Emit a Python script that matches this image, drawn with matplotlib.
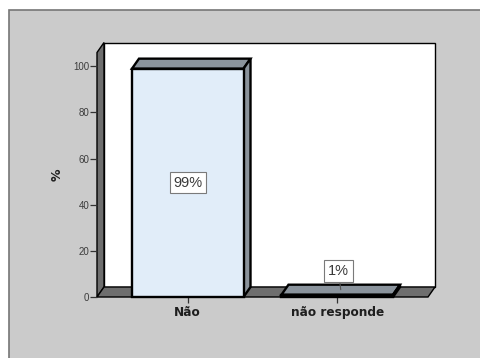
import matplotlib.pyplot as plt
import matplotlib.patches as mpatches

import numpy

categories = ['Não', 'não responde']
percents = [99, 1]
value_labels = ['99%', '1%']
yticks = [0, 20, 40, 60, 80, 100]

bg_gray = '#cbcbcb'
wall_gray = '#6e6e6e'
bar_face = '#e1edf9'
bar_shade = '#8a939c'
tick_font = {'family': 'Liberation Sans', 'size': 7, 'color': '#3c3c3c'}
cat_font = {'family': 'DejaVu Sans', 'size': 8.7, 'weight': 'bold', 'color': '#1e1e1e'}

f = plt.figure(figsize=(4.81, 3.58), dpi=100, facecolor='w')

# gray panel behind the chart
panel = mpatches.Rectangle((9 / 481., -0.1), 1.2, 1.1 - 10 / 358., transform=f.transFigure,
                           facecolor=bg_gray, edgecolor='#767676', linewidth=1.2, zorder=-10)
f.patches.append(panel)

ax = f.add_axes((97 / 481., 61 / 358., 331 / 481., 244.5 / 358.))
ax.patch.set_visible(False)
for s in ax.spines.values():
    s.set_visible(False)

x0, x1 = -0.607, 1.607
ymax = 106
ax.set_xlim(x0, x1)
ax.set_ylim(0, ymax)

# depth of the fake 3d box, in data units (7px right, 10px up)
dx = 7 / 149.5
dy = 10 / 2.307

def poly(pts, fc, z, lw=1.0):
    p = mpatches.Polygon(pts, closed=True, facecolor=fc, edgecolor='k',
                         linewidth=lw, joinstyle='miter', clip_on=False, zorder=z)
    ax.add_patch(p)
    return p

# back wall, left wall, floor
poly([(x0 + dx, dy), (x1 + dx, dy), (x1 + dx, ymax + dy), (x0 + dx, ymax + dy)], 'white', 0.5)
poly([(x0, 0), (x0 + dx, dy), (x0 + dx, ymax + dy), (x0, ymax)], wall_gray, 1)
poly([(x0, 0), (x1, 0), (x1 + dx, dy), (x0 + dx, dy)], wall_gray, 1)

ind = numpy.arange(len(categories))
width = 0.746

bars = ax.bar(ind, percents, width=width, color=bar_face, edgecolor='k',
              linewidth=1.7, zorder=4, clip_on=False)

for b in bars:
    xl = b.get_x()
    xr = xl + b.get_width()
    h = b.get_height()
    poly([(xl, h), (xr, h), (xr + dx, h + dy), (xl + dx, h + dy)], bar_shade, 3, lw=1.7)
    poly([(xr, 0), (xr + dx, dy), (xr + dx, h + dy), (xr, h)], bar_shade, 3, lw=1.7)

# value labels
box = dict(boxstyle='square,pad=0.25', facecolor='white', edgecolor='#7a7a7a', linewidth=0.8)
ax.text(ind[0], percents[0] / 2., value_labels[0], ha='center', va='center',
        family='Liberation Sans', size=10.5, color='#3a3a3a', bbox=box, zorder=6)
ax.annotate(value_labels[1], xy=(ind[1] + dx / 2, percents[1] + dy / 2),
            xytext=(-1.7, 13.5), textcoords='offset points', ha='center', va='center',
            family='Liberation Sans', size=10.5, color='#3a3a3a', bbox=box, zorder=6,
            arrowprops=dict(arrowstyle='-', color='#555555', linewidth=0.8,
                            shrinkA=0, shrinkB=0))

ax.set_yticks(yticks)
ax.set_yticklabels([str(t) for t in yticks], fontdict=tick_font)
ax.tick_params(axis='y', direction='out', length=5, width=0.9, color='#333333', pad=0.5)

ax.set_xticks(ind)
ax.set_xticklabels(categories, fontdict=cat_font)
ax.tick_params(axis='x', direction='out', length=4.3, width=0.9, color='#333333', pad=2)

ax.text(-0.121, 0.5, '%', transform=ax.transAxes, rotation=90, ha='center', va='center',
        family='DejaVu Sans', size=9, weight='bold', color='#1e1e1e')

f.savefig('out.png', dpi=100, facecolor='w')
